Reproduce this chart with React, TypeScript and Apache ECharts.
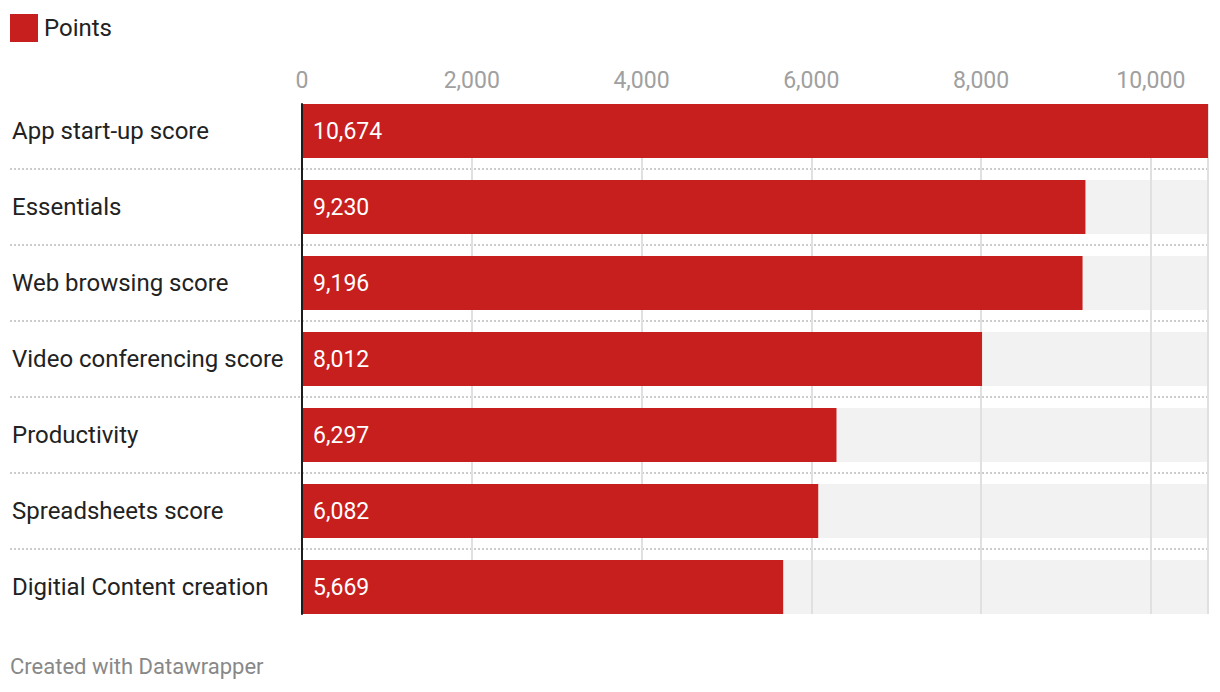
import React, { useEffect, useRef } from "react";
import * as echarts from "echarts";

const categories = [
  "App start-up score",
  "Essentials",
  "Web browsing score",
  "Video conferencing score",
  "Productivity",
  "Spreadsheets score",
  "Digitial Content creation",
];
const points = [10674, 9230, 9196, 8012, 6297, 6082, 5669];
const seriesName = "Points";
const footer = "Created with Datawrapper";

const FONT = "Roboto";
const RED = "#c71e1e";

export default function App() {
  const ref = useRef<HTMLDivElement>(null);
  useEffect(() => {
    if (!ref.current) return;
    const chart = echarts.init(ref.current, undefined, { renderer: "svg" });
    const maxVal = Math.max(...points);
    const fmt = (v: number) => Number(v).toLocaleString("en-US");
    chart.setOption({
      animation: false,
      textStyle: { fontFamily: FONT },
      title: {
        text: footer,
        left: 10,
        top: 655,
        padding: 0,
        textStyle: { fontFamily: FONT, fontSize: 22, fontWeight: "normal", color: "#888888" },
      },
      legend: {
        data: [seriesName],
        left: 10,
        top: 14,
        padding: 0,
        itemWidth: 28,
        itemHeight: 28,
        icon: "rect",
        selectedMode: false,
        textStyle: { fontFamily: FONT, fontSize: 24, color: "#222222", padding: [0, 0, 4, 1] },
      },
      grid: [
        { left: 10, right: 12, top: 93, height: 532 },
        { left: 302, right: 12, top: 93, height: 532 },
        { left: 302, right: 12, top: 104, height: 510 },
      ],
      xAxis: [
        { gridIndex: 0, type: "value", show: false },
        { gridIndex: 1, type: "value", min: 0, max: maxVal, show: false },
        {
          gridIndex: 2,
          type: "value",
          position: "top",
          min: 0,
          max: maxVal,
          interval: 2000,
          z: 2,
          axisLine: { show: false },
          axisTick: { show: false },
          axisLabel: {
            showMaxLabel: false,
            margin: 12,
            fontFamily: FONT,
            fontSize: 23,
            color: "#a0a0a0",
            formatter: fmt,
          },
          splitLine: { show: true, lineStyle: { color: "#e0e0e0", width: 2 } },
        },
      ],
      yAxis: [
        {
          gridIndex: 0,
          type: "category",
          inverse: true,
          data: categories,
          axisLine: { show: false },
          axisTick: { show: false },
          axisLabel: { show: false },
          splitLine: {
            show: true,
            showMinLine: false,
            showMaxLine: false,
            lineStyle: { color: "#cccccc", width: 2, type: [2, 2] },
          },
        },
        {
          gridIndex: 1,
          type: "category",
          inverse: true,
          data: categories,
          axisLine: { show: false },
          axisTick: { show: false },
          axisLabel: {
            align: "left",
            margin: 290,
            fontFamily: FONT,
            fontSize: 24,
            color: "#222222",
            padding: [2, 0, 0, 0],
          },
        },
        {
          gridIndex: 2,
          type: "value",
          z: 5,
          axisLine: { show: true, onZero: false, lineStyle: { color: "#1d1d1d", width: 2 } },
          axisTick: { show: false },
          axisLabel: { show: false },
          splitLine: { show: false },
        },
      ],
      series: [
        {
          name: "bg",
          type: "bar",
          xAxisIndex: 1,
          yAxisIndex: 1,
          z: 1,
          silent: true,
          barWidth: 54,
          barGap: "-100%",
          itemStyle: { color: "#f2f2f2" },
          data: categories.map(() => maxVal),
        },
        {
          name: seriesName,
          type: "bar",
          xAxisIndex: 1,
          yAxisIndex: 1,
          z: 3,
          barWidth: 54,
          barGap: "-100%",
          itemStyle: { color: RED },
          label: {
            show: true,
            position: "insideLeft",
            distance: 11,
            color: "#ffffff",
            fontFamily: FONT,
            fontSize: 23,
            formatter: (p: any) => fmt(p.value),
          },
          data: points,
        },
      ],
    });
    return () => chart.dispose();
  }, []);
  return (
    <div
      ref={ref}
      style={{ position: "fixed", left: 0, top: 0, width: 1220, height: 692, background: "#fff" }}
    />
  );
}
